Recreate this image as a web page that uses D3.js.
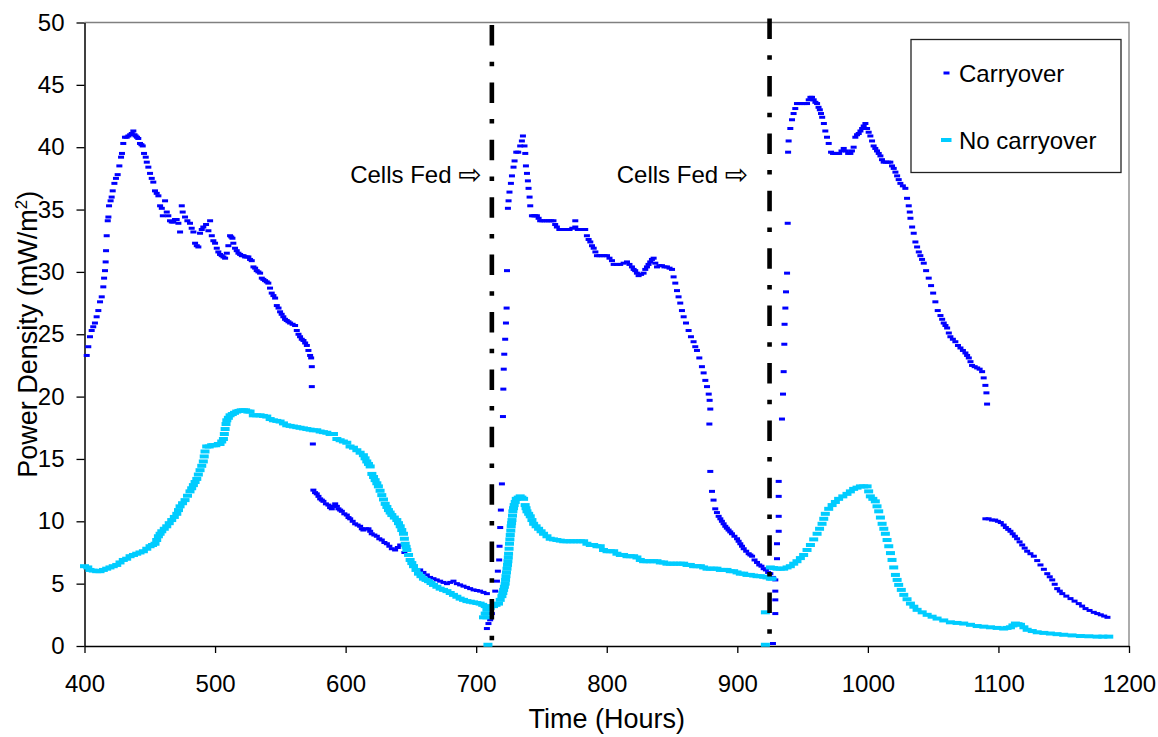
<!DOCTYPE html>
<html><head><meta charset="utf-8">
<script src="https://cdn.jsdelivr.net/npm/d3@7"></script>
<style>
html,body{margin:0;padding:0;background:#fff;}
text{font-family:"Liberation Sans",Arial,sans-serif;fill:#000;}
</style></head>
<body><svg id="chart" width="1158" height="737"></svg>
<script>
// ---------------- data ----------------
const xTicks = [400,500,600,700,800,900,1000,1100,1200];
const yTicks = [0,5,10,15,20,25,30,35,40,45,50];
const seriesNames = ["Carryover","No carryover"];
const feedTimes = [712.0, 924.7];
const feedText = "Cells Fed ";
const feedArrow = "\u21E8";

// Carryover: [time (h), power density (mW/m2)]
const carryover = [
[401.7,23.3],[402.9,24.0],[404.2,24.8],[405.5,25.3],[406.7,25.6],[408,25.9],[409.3,26.4],[410.6,26.9],[411.9,27.6],[413.2,28.0],[414.4,28.8],[415,29.5],[415.7,30.1],[416.2,30.8],[416.5,31.7],[417,32.9],[417.8,34.1],[418.3,34.4],[418.8,35.3],[420,35.7],[420.8,36.0],[421.6,36.5],[422.9,37.1],[424.1,37.5],[425.4,37.8],[426.7,38.5],[428,39.2],[428.7,39.5],[429.7,40.3],[431,40.8],[432.3,40.8],[433.6,40.9],[435,41.0],[436.2,41.1],[437.4,41.3],[438.3,41.0],[439.2,40.9],[440.2,40.8],[441.2,40.7],[442.5,40.3],[443.6,40.2],[444.6,40.1],[445.6,39.5],[446.9,39.2],[447.7,38.8],[448.9,38.4],[450.2,37.9],[451.5,37.5],[452.7,37.2],[454,36.5],[455.3,36.3],[456.6,36.1],[457.9,35.3],[459.2,35.1],[460,34.5],[461.7,35.7],[463,34.8],[464.2,34.5],[465.5,34.1],[466.8,34.0],[468,34.0],[469.3,34.2],[470.6,34.2],[471.9,33.9],[473.2,33.2],[474.5,35.3],[475.2,34.8],[477,34.4],[478.8,34.1],[480.8,33.9],[482.1,33.5],[483.4,33.2],[484.7,32.3],[486,32.1],[487.2,32.0],[488.5,33.1],[489.8,33.4],[491,33.6],[493.1,33.8],[494.9,33.3],[496.2,34.1],[497.5,32.9],[498.7,32.5],[500,32.3],[501.3,31.9],[502.5,31.6],[503.8,31.4],[505.1,31.3],[506.4,31.2],[507.7,31.1],[509,31.5],[510.2,32.1],[511.5,32.9],[512.4,32.8],[513.3,32.7],[514,32.3],[515.3,31.9],[516.6,31.7],[517.9,31.5],[519.2,31.4],[520.5,31.3],[521.8,31.3],[523,31.2],[524.3,31.2],[525.5,31.2],[526.8,31.0],[528.1,30.9],[529.4,30.4],[530.7,30.3],[531.9,30.1],[533.2,30.0],[534.5,29.9],[535.8,29.5],[537,29.4],[538.3,29.3],[539.6,29.2],[540.8,29.1],[542.1,28.7],[543.4,28.3],[544.7,28.1],[546,27.9],[547.3,27.3],[548.6,27.1],[549.8,26.8],[551,26.6],[552.3,26.4],[553.6,26.2],[554.9,26.1],[556.2,26.0],[557.5,25.9],[559.4,25.8],[561.3,25.7],[562.6,25.3],[563.9,25.0],[565.1,24.8],[566.4,24.6],[567.7,24.5],[569,24.3],[570.3,24.1],[571.5,23.7],[572.8,23.3],[573.6,23.1],[574.1,22.4],[574.1,20.8],[574.9,16.2],
[575.3,12.5],[576.6,12.3],[577.9,12.2],[579.2,12.0],[580.5,11.8],[581.8,11.7],[583,11.6],[584.9,11.4],[586.8,11.3],[588.1,11.1],[589.4,11.0],[590.7,11.2],[592,11.4],[593.3,11.2],[594.5,11.0],[595.8,10.9],[597.1,10.8],[599,10.6],[600.9,10.5],[602.2,10.3],[603.5,10.2],[605.4,10.0],[607.3,9.8],[609.2,9.7],[611.1,9.6],[612.4,9.4],[613.6,9.3],[615.5,9.4],[617.5,9.4],[618.8,9.2],[620,9.0],[622,8.9],[623.9,8.8],[625.8,8.6],[627.7,8.5],[629.7,8.3],[631.6,8.2],[633.5,8.0],[635.4,7.8],[637.9,7.7],[640,7.9],[641.8,8.1],[645,7.5],[649,6.9],[653,6.4],[657.1,6.1],[659.6,5.9],[662.2,5.7],[664.7,5.5],[667.3,5.4],[669.8,5.3],[672.4,5.2],[675,5.1],[677.6,5.0],[680.1,5.1],[682.6,5.2],[685.2,5.0],[687.7,4.9],[690.3,4.8],[692.9,4.7],[695.4,4.6],[698,4.5],[700.5,4.45],[703,4.4],[705.6,4.3],[708.2,4.2],
[708.2,1.4],[709.4,1.8],[710.7,2.1],[712,2.6],[713.3,3.3],[714.6,4.4],[715.9,5.2],[716.6,6.0],[717.6,6.9],[717.9,8.0],[718.4,9.5],[718.9,10.9],[719.7,13.0],[720.5,18.4],[720.8,20.6],[721.1,22.2],[721.5,23.4],[722.2,24.6],[722.8,25.9],[723.3,27.1],[723.6,30.1],[724.3,35.1],[724.8,35.7],[725.5,36.4],[726.6,37.1],[727.4,37.7],[728.6,38.4],[729.4,38.9],[730.7,39.6],[732.2,39.6],[733.7,40.1],[735,40.5],[735.8,40.9],[737,40.1],[737.6,39.5],[738.1,38.5],[738.9,37.9],[739.6,37.3],[740.1,36.7],[740.9,36.0],[741.4,35.3],[742.7,34.5],[744,34.5],[745.2,34.5],[746.5,34.5],[747.8,34.3],[749,34.1],[750.6,34.1],[752.4,34.1],[754.2,34.1],[755.9,34.1],[757.5,34.1],[759.2,34.1],[760.5,33.8],[761.8,33.6],[763.7,33.4],[765.7,33.4],[767.6,33.4],[769.5,33.4],[771.5,33.4],[773.6,33.5],[775.9,34.1],[775.9,33.6],[777.8,33.4],[779.7,33.4],[781.6,33.4],[783.5,33.4],[784.8,32.9],[786.1,32.6],[787.4,32.4],[788.7,32.1],[790,31.9],[791.3,31.6],[792.5,31.3],[794.4,31.3],[796.3,31.3],[798.3,31.3],[800.2,31.3],[802.1,31.1],[804,30.9],[805.3,30.6],[807.8,30.6],[810.3,30.6],[812.9,30.7],[815.5,30.8],[817.4,30.6],[819.3,30.4],[820.6,30.2],[821.8,30.1],[823.1,29.9],[824.4,29.7],[826.3,29.8],[828.2,29.9],[829.5,30.2],[830.8,30.4],[832,30.6],[833.3,30.8],[834.6,31.0],[835.9,31.1],[837.2,30.7],[838.5,30.4],[840.4,30.5],[842.3,30.5],[844.2,30.4],[846.1,30.4],[848.1,30.3],[850,30.2],[851.2,29.6],[852.5,29.1],[853.8,28.5],[855,28.0],[856.3,27.5],[857.6,26.9],[858.9,26.4],[860.7,25.9],[862.7,25.3],[864.5,24.8],[866.5,24.4],[867.8,24.0],[869.1,23.7],[870.9,23.1],[872.9,22.4],[874.2,21.9],[875.5,21.3],[876.8,20.8],[878.1,20.2],[878.8,19.7],[879.3,19.0],[878.6,17.8],[879.3,14.0],
[880.6,12.4],[881.8,11.7],[883.1,11.0],[884.4,10.7],[885.7,10.4],[887,10.2],[888.2,10.0],[889.5,9.8],[890.8,9.6],[892,9.45],[893.3,9.3],[894.6,9.15],[895.9,9.0],[897.8,8.8],[899.8,8.6],[901,8.4],[902.3,8.2],[903.6,8.0],[904.9,7.8],[906.8,7.6],[908.7,7.4],[910,7.3],[911.3,7.2],[913.2,6.9],[915.1,6.7],[916.8,6.5],[918.5,6.4],[920.2,6.2],[921.9,6.1],[923.6,5.9],[925.3,5.8],[927.2,5.5],[929.1,5.3],
[927.3,0.2],[929.1,2.6],[929.1,3.7],[929.1,4.4],[930.4,7.0],[930.4,8.2],[931.7,9.2],[931.7,10.4],[931.7,12.0],[931.7,13.2],[934.2,18.2],[935,20.2],[935.5,22.0],[936,24.2],[936.2,25.8],[936.8,27.1],[937.3,28.4],[938.1,29.9],[938.6,33.9],[938.9,39.6],[939.3,40.5],[940.6,41.5],[941.9,42.2],[943.1,42.7],[944.4,43.1],[945.7,43.5],[947.6,43.5],[949.6,43.5],[951.5,43.5],[953.4,43.5],[954.7,43.8],[956,44.0],[957.2,44.0],[958.5,43.8],[959.8,43.6],[961.1,43.5],[962.2,43.2],[963.2,43.0],[964.1,42.7],[965,42.4],[966.3,41.9],[967.4,41.3],[968.7,40.8],[970,40.3],[971.8,39.6],[973.3,39.5],[974.8,39.5],[976.4,39.5],[978,39.5],[979.8,39.7],[981.5,39.9],[983.2,39.7],[984.9,39.5],[986.6,39.5],[987.8,39.7],[989.1,40.0],[990.4,40.8],[991.7,41.0],[993,41.1],[994.3,41.3],[995.6,41.5],[996.8,41.7],[998.1,41.9],[999.4,41.5],[1000.6,41.2],[1001.9,40.9],[1003.2,40.5],[1004.4,40.1],[1005.7,39.9],[1007,39.7],[1008.3,39.5],[1009.6,39.3],[1010.8,39.0],[1012.1,38.8],[1013.8,38.8],[1015.5,38.8],[1017.2,38.8],[1018.5,38.5],[1019.8,38.3],[1021.1,38.0],[1022.4,37.7],[1023.6,37.4],[1024.9,37.1],[1026.8,36.9],[1028.7,36.7],[1030,35.9],[1031.3,35.3],[1032.1,34.8],[1032.6,34.3],[1033.9,33.6],[1035.1,33.1],[1036.4,32.4],[1037.7,32.0],[1039,31.6],[1040.2,31.3],[1041.5,31.0],[1042.8,30.7],[1044.6,30.1],[1046.6,29.5],[1048.4,28.9],[1050,28.3],[1051.7,27.6],[1053.5,26.9],[1055.6,26.5],[1056.9,26.2],[1058.1,25.9],[1059.4,25.7],[1060.7,25.5],[1062,25.1],[1063.2,24.8],[1065.1,24.6],[1067,24.4],[1069,24.1],[1070.9,23.9],[1072.8,23.7],[1074.7,23.5],[1076,23.3],[1077.3,23.1],[1078.6,22.8],[1079.8,22.5],[1081.8,22.4],[1083.7,22.3],[1085.6,22.2],[1087.5,22.0],[1088.7,21.5],[1090,20.9],[1090.8,20.3],[1091.3,19.4],
[1090,10.2],[1092.5,10.2],[1095,10.1],[1097.5,10.1],[1099.6,10.0],[1101.8,9.9],[1104,9.7],[1105.7,9.5],[1107.5,9.35],[1109.2,9.2],[1110.9,9.0],[1112.6,8.8],[1114.3,8.6],[1116.2,8.35],[1118.2,8.1],[1120.1,7.85],[1122,7.6],[1124.5,7.4],[1127.1,7.2],[1129.7,6.85],[1132.2,6.5],[1134.8,6.15],[1137.4,5.8],[1139.3,5.55],[1141.2,5.3],[1143.1,4.95],[1145,4.6],[1147,4.4],[1148.9,4.2],[1152,4.0],[1155.2,3.8],[1158.3,3.6],[1161.5,3.4],[1164.1,3.2],[1166.7,3.0],[1169.8,2.85],[1173,2.7],[1175.7,2.6],[1178.4,2.5],[1181,2.4],[1183.5,2.3]
];

// No carryover: [time (h), power density (mW/m2)]
const noCarryover = [
[400,6.4],[402.5,6.3],[404.2,6.1],[406.7,6.05],[409.3,6.0],[411.9,6.0],[414.4,6.1],[417,6.2],[419.5,6.3],[422,6.4],[424.7,6.5],[427.2,6.7],[429.7,6.9],[432.3,7.0],[434.9,7.2],[437.5,7.3],[440,7.4],[442.5,7.5],[445.1,7.6],[447.7,7.8],[450.2,8.0],[452.1,8.1],[454,8.2],[455.3,8.5],[456.6,8.8],[457.9,9.0],[459.2,9.2],[461.1,9.4],[463,9.6],[464.9,9.85],[466.8,10.1],[468.8,10.35],[470.7,10.6],[472,10.9],[473.2,11.2],[475.1,11.45],[477,11.7],[478.9,12.05],[480.8,12.4],[482.1,12.65],[483.4,12.9],[484.7,13.15],[486,13.4],[487.2,13.75],[488.5,14.1],[489.8,14.45],[491,14.8],[491.7,15.2],[492.3,15.6],[493.6,16.0],[495.5,16.0],[497.4,16.1],[498.7,16.1],[500.6,16.1],[502.5,16.2],[503.8,16.2],[505.1,16.4],[506.4,16.6],[507.1,17.0],[507.7,17.4],[508.4,17.8],[509,18.1],[510.2,18.3],[511.5,18.5],[513.2,18.6],[514.9,18.7],[516.6,18.8],[518.3,18.85],[520,18.9],[521.7,18.9],[523.4,18.9],[525.1,18.8],[526.8,18.8],[529.3,18.5],[531.9,18.5],[534.5,18.5],[537,18.45],[539.6,18.4],[542.2,18.2],[544.7,18.1],[547.3,18.05],[549.8,18.0],[552.4,17.85],[554.9,17.7],[557.5,17.65],[560,17.6],[562.6,17.55],[565.1,17.5],[567.7,17.45],[570.3,17.4],[572.8,17.35],[575.3,17.3],[577.9,17.3],[580.5,17.2],[583,17.15],[585.6,17.1],[588.1,17.0],[590.7,17.0],[593.3,16.6],[595.8,16.5],[598.3,16.4],[600.9,16.3],[603.4,16.0],[606,15.9],[608.6,15.7],[611.1,15.5],[613.6,15.3],[614.9,15.05],[616.2,14.8],[617.5,14.6],[618.8,14.4],[620.1,13.8],[621.4,13.55],[622.6,13.3],[623.9,13.05],[625.1,12.8],[626.4,12.45],[627.7,12.1],[629,11.75],[630.3,11.4],[631.6,11.15],[632.8,10.9],[634.1,10.7],[635.4,10.5],[637.3,10.3],[639.2,10.1],[640.5,9.85],[641.8,9.6],[643,9.3],[644.3,9.0],[645,8.6],[645.6,8.2],[646.3,7.95],[646.9,7.7],[648.2,7.3],[649.4,6.9],[650.7,6.65],[652,6.4],[653.9,6.1],[655.8,5.8],[657.7,5.6],[659.6,5.4],[661.6,5.3],[663.5,5.2],[665.4,5.05],[667.3,4.9],[669.9,4.75],[672.4,4.6],[675,4.5],[677.6,4.4],[680.1,4.25],[682.6,4.1],[685.2,3.95],[687.7,3.8],[690.3,3.7],[692.9,3.6],[695.5,3.55],[698,3.5],[700.5,3.45],[703,3.4],[705,3.3],[706.9,3.2],[706.9,2.6],[705.6,2.3],[708.2,2.3],[709,0.1],[708.2,2.9],[710.7,3.05],[713.3,3.2],[715.2,3.3],[717.1,3.4],[718.4,3.7],[719.7,4.0],[720.4,4.25],[721,4.5],[721.6,4.75],[722.2,5.0],[722.5,5.3],[722.8,5.6],[723.2,5.9],[723.6,6.2],[724,6.5],[724.3,6.8],[724.6,7.1],[724.8,7.4],[725.2,7.8],[725.5,8.2],[725.8,8.55],[726.1,8.9],[726.5,9.25],[726.8,9.6],[727.1,9.85],[727.4,10.1],[727.8,10.45],[728.1,10.8],[728.6,11.05],[729.1,11.3],[729.9,11.55],[730.7,11.8],[732.2,11.9],[733.7,12.0],[735,11.9],[736.3,11.8],[737.5,11.3],[738.2,11.05],[738.9,10.8],[740.2,10.6],[741.4,10.4],[742.7,10.1],[744,9.8],[745.9,9.6],[747.8,9.4],[749.7,9.2],[751.6,9.0],[754.2,8.8],[756.7,8.6],[759.2,8.55],[761.8,8.5],[764.4,8.45],[767,8.4],[769.5,8.4],[772.1,8.4],[774.6,8.4],[777.2,8.4],[779.8,8.4],[782.3,8.4],[784.8,8.2],[787.4,8.1],[790,8.1],[792.5,8.0],[795,8.0],[797.5,7.7],[800.2,7.6],[802.7,7.6],[805.3,7.6],[807.8,7.4],[810.4,7.3],[812.9,7.3],[815.5,7.2],[818,7.2],[820.6,7.2],[823.1,7.1],[825.7,6.9],[828.2,6.8],[830.8,6.8],[833.3,6.8],[835.9,6.8],[838.5,6.8],[841,6.7],[843.6,6.7],[846.1,6.6],[848.7,6.6],[851.2,6.6],[853.8,6.6],[856.3,6.6],[858.9,6.6],[861.5,6.5],[864,6.5],[866.5,6.4],[869.1,6.4],[871.7,6.4],[874.2,6.3],[876.8,6.2],[879.3,6.2],[881.9,6.2],[884.4,6.2],[887,6.1],[889.5,6.1],[892.1,6.1],[894.6,6.0],[897.2,6.0],[899.8,5.9],[902.3,5.8],[904.9,5.8],[907.4,5.7],[910,5.7],[912.5,5.65],[915.1,5.6],[917.6,5.6],[920.2,5.55],[921.5,2.7],[921.5,0.1],[922.7,5.5],[925.3,5.4],[926.6,5.4],[925.3,6.3],[927.9,6.25],[930.4,6.2],[932.9,6.2],[935.5,6.2],[938.1,6.3],[940.6,6.4],[943.2,6.6],[945.7,6.8],[948.3,7.05],[950.8,7.3],[953.4,7.7],[956,8.1],[958.5,8.55],[961.1,9.0],[963,9.4],[964.9,9.8],[966.2,10.2],[967.4,10.6],[970,11.0],[972.6,11.3],[975.1,11.55],[977.6,11.8],[980.8,12.0],[984,12.2],[986.6,12.4],[989.1,12.6],[991.7,12.7],[994.3,12.8],[996.8,12.8],[999.4,12.8],[1000.6,12.4],[1001.9,12.0],[1003.8,11.8],[1005.7,11.6],[1007,11.2],[1008.3,10.8],[1009.6,10.3],[1010.9,9.8],[1012.2,9.4],[1013.4,9.0],[1014.7,8.5],[1016,8.0],[1017.3,7.45],[1018.5,6.9],[1019.8,6.3],[1021.1,5.7],[1022.4,5.3],[1023.6,4.9],[1025.6,4.5],[1027.5,4.1],[1030,3.75],[1032.6,3.4],[1035.2,3.15],[1037.7,2.9],[1041.6,2.7],[1045.4,2.5],[1049.2,2.35],[1053,2.2],[1058.1,2.05],[1063.2,1.9],[1068.3,1.85],[1073.4,1.8],[1078.6,1.7],[1083.7,1.6],[1088.8,1.55],[1093.9,1.5],[1099,1.45],[1104,1.4],[1106.6,1.45],[1109.2,1.5],[1111.1,1.65],[1113,1.8],[1115,1.75],[1116.9,1.7],[1119.5,1.5],[1122,1.3],[1125.9,1.2],[1129.7,1.1],[1134.8,1.05],[1139.8,1.0],[1144.9,0.95],[1150,0.9],[1156.4,0.85],[1162.8,0.8],[1169.2,0.78],[1175.6,0.75],[1180,0.75],[1184.5,0.75]
];

// ---------------- drawing ----------------
const svg = d3.select("#chart");
const L = 84.5, R = 1129, T = 22.5, B = 646;
const x = d3.scaleLinear().domain([400,1200]).range([L,R]);
const y = d3.scaleLinear().domain([0,50]).range([B,T]);
const colors = ["#0000FF","#00CCFF"];
const mark = [{w:6,h:3},{w:9,h:4}];

// frame (top & right)
svg.append("path").attr("d",`M${L},${T}H${R}V${B}`).attr("fill","none").attr("stroke","#808080").attr("stroke-width",1.3);

// axes
const yAxis = d3.axisLeft(y).tickValues(yTicks).tickSizeInner(8).tickSizeOuter(0).tickPadding(12).tickFormat(d3.format("d"));
const xAxis = d3.axisBottom(x).tickValues(xTicks).tickSizeInner(7).tickSizeOuter(0).tickPadding(22).tickFormat(d3.format("d"));
const gy = svg.append("g").attr("transform",`translate(${L},0)`).call(yAxis);
const gx = svg.append("g").attr("transform",`translate(0,${B})`).call(xAxis);
[gx,gy].forEach(g=>{
  g.select(".domain").attr("stroke","#000").attr("stroke-width",1.5);
  g.selectAll(".tick line").attr("stroke","#000").attr("stroke-width",1.3);
  g.selectAll(".tick text").attr("font-size",24).attr("font-family","Liberation Sans, Arial, sans-serif").attr("fill","#000");
});

// series markers
function drawSeries(data, i){
  svg.append("g").selectAll("rect").data(data).join("rect")
    .attr("x",d=>x(d[0])-mark[i].w/2).attr("y",d=>y(d[1])-mark[i].h/2)
    .attr("width",mark[i].w).attr("height",mark[i].h).attr("fill",colors[i]);
}
drawSeries(carryover,0);
drawSeries(noCarryover,1);

// feed lines (dash-dot)
const lineTop = [25, 18.6];
feedTimes.forEach((t,i)=>{
  svg.append("line").attr("x1",x(t)).attr("x2",x(t)).attr("y1",lineTop[i]).attr("y2",B)
    .attr("stroke","#000").attr("stroke-width",4.6).attr("stroke-dasharray","20.5,16.2,4.5,16.2");
});
// labels
const labelEnd = [704.2, 908.4];
labelEnd.forEach(t=>{
  const tx = svg.append("text").attr("x",x(t)).attr("y",183).attr("text-anchor","end").attr("font-size",24);
  tx.append("tspan").text(feedText);
  tx.append("tspan").attr("font-size",28).attr("font-family","DejaVu Sans").attr("dy",1).text(feedArrow);
});

// axis titles
svg.append("text").attr("x",(L+R)/2).attr("y",728).attr("text-anchor","middle").attr("font-size",27).text("Time (Hours)");
const yt = svg.append("text").attr("transform",`translate(37,${(T+B)/2}) rotate(-90)`).attr("text-anchor","middle").attr("font-size",27);
yt.append("tspan").text("Power Density (mW/m");
yt.append("tspan").attr("dy",-10).attr("font-size",17).text("2");
yt.append("tspan").attr("dy",10).text(")");

// legend
const lg = svg.append("g");
lg.append("rect").attr("x",911).attr("y",39.5).attr("width",210).attr("height",133).attr("fill","#fff").attr("stroke","#222").attr("stroke-width",1.3);
seriesNames.forEach((n,i)=>{
  const cy = 73 + i*67;
  lg.append("rect").attr("x",946.5-mark[i].w/2 - i).attr("y",cy-mark[i].h/2).attr("width",mark[i].w+ i*1.5).attr("height",mark[i].h).attr("fill",colors[i]);
  lg.append("text").attr("x",959).attr("y",cy+8.5).attr("font-size",24).text(n);
});
</script></body></html>
